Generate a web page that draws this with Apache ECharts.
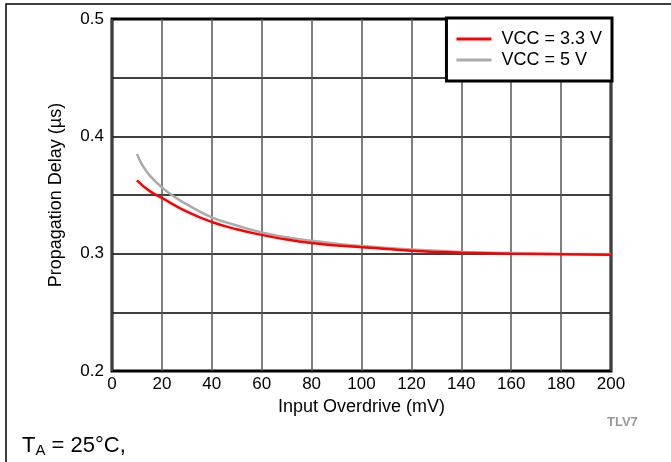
<!DOCTYPE html>
<html>
<head>
<meta charset="utf-8">
<script src="https://cdn.jsdelivr.net/npm/echarts@6/dist/echarts.min.js"></script>
<style>
  html, body { margin: 0; padding: 0; background: #fff; }
  #chart { width: 671px; height: 462px; }
</style>
</head>
<body>
<div id="chart"></div>
<script>
// input overdrive (mV) vs propagation delay (us)
const xVcc33 = [10, 15, 20, 30, 40, 50, 60, 70, 80, 90, 100, 110, 120, 130, 140, 160, 180, 200]
const yVcc33 = [0.3625, 0.3535, 0.3475, 0.3358, 0.327, 0.3208, 0.316, 0.312, 0.309, 0.307, 0.3055, 0.304, 0.3025, 0.3015, 0.3008, 0.3, 0.2995, 0.299]
const xVcc5 = [10, 12, 15, 20, 25, 30, 40, 50, 60, 70, 80, 90, 100, 120, 140, 160, 180, 200]
const yVcc5 = [0.385, 0.376, 0.367, 0.3565, 0.3485, 0.342, 0.331, 0.324, 0.318, 0.314, 0.311, 0.3085, 0.3065, 0.3035, 0.3015, 0.3005, 0.2998, 0.2995]
const seriesNames = ['VCC = 3.3 V', 'VCC = 5 V']

const font = '"Liberation Sans", Arial, Helvetica, sans-serif'

const chart = echarts.init(document.getElementById('chart'))

chart.setOption({
  backgroundColor: '#fff',
  animation: false,
  textStyle: { fontFamily: font },
  grid: {
    left: 112, right: 60, top: 19, bottom: 91,
    show: true, borderColor: '#000', borderWidth: 3, backgroundColor: 'transparent',
  },
  legend: {
    orient: 'vertical',
    right: 59,
    top: 18,
    padding: [12, 10, 12, 10],
    icon: 'rect',
    itemWidth: 35,
    itemHeight: 3,
    itemGap: 3,
    backgroundColor: '#fff',
    borderColor: '#000',
    borderWidth: 3,
    textStyle: { fontSize: 18, color: '#000', fontFamily: font, padding: [0, 0, 0, 5], lineHeight: 18 },
    data: seriesNames,
  },
  xAxis: {
    type: 'value',
    min: 0, max: 200, interval: 20,
    name: 'Input Overdrive (mV)',
    nameLocation: 'middle',
    nameGap: 21,
    nameTextStyle: { fontSize: 18, color: '#000' },
    axisLine: { show: false },
    axisTick: { show: false },
    axisLabel: { fontSize: 17, color: '#000', margin: 5 },
    splitLine: { lineStyle: { color: '#555', width: 1.5 } },
  },
  yAxis: {
    type: 'value',
    min: 0.2, max: 0.5, interval: 0.05,
    name: 'Propagation Delay (µs)',
    nameLocation: 'middle',
    nameGap: 47,
    nameTextStyle: { fontSize: 18, color: '#000' },
    axisLine: { show: false },
    axisTick: { show: false },
    axisLabel: {
      fontSize: 17, color: '#000', margin: 8,
      formatter: (v) => Math.abs(v * 10 - Math.round(v * 10)) < 1e-6 ? v.toFixed(1) : '',
    },
    splitLine: { lineStyle: { color: '#000', width: 1.5 } },
  },
  series: [
    {
      name: seriesNames[0],
      type: 'line',
      smooth: 0.5,
      symbol: 'none',
      z: 3,
      lineStyle: { color: '#ff0000', width: 2.5 },
      itemStyle: { color: '#ff0000' },
      data: xVcc33.map((x, i) => [x, yVcc33[i]]),
    },
    {
      name: seriesNames[1],
      type: 'line',
      smooth: 0.5,
      symbol: 'none',
      z: 2,
      lineStyle: { color: '#aaaaaa', width: 2.5 },
      itemStyle: { color: '#aaaaaa' },
      data: xVcc5.map((x, i) => [x, yVcc5[i]]),
    },
  ],
  graphic: [
    {
      type: 'rect',
      shape: { x: 6, y: 4, width: 700, height: 500 },
      style: { fill: 'none', stroke: '#000', lineWidth: 1.5 },
      silent: true,
    },
    {
      type: 'text',
      left: 607, top: 416,
      style: { text: 'TLV7', fontSize: 13, fontWeight: 'bold', fill: '#999', fontFamily: font },
    },
    {
      type: 'text',
      left: 22, top: 434,
      style: {
        text: '{a|T}{b|A}{a| = 25°C,}',
        fontFamily: font,
        rich: {
          a: { fontSize: 22, fill: '#000', fontFamily: font, lineHeight: 24 },
          b: { fontSize: 15, fill: '#000', fontFamily: font, lineHeight: 24, padding: [9, 0, 0, 0] },
        },
      },
    },
  ],
})
</script>
</body>
</html>
